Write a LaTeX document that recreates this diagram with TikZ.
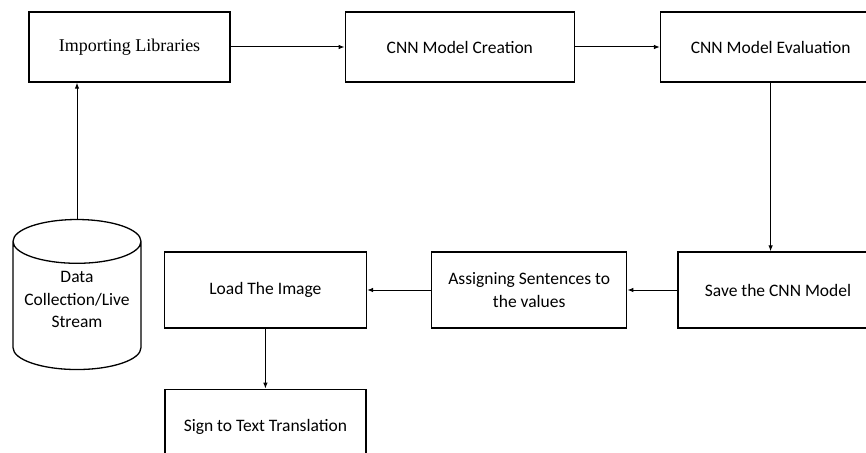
\documentclass[tikz,border=0pt]{standalone}
\usepackage{fontspec}
\setmainfont{Carlito}
\newfontfamily\serifbox{Liberation Serif}
\usetikzlibrary{positioning,shapes.geometric,arrows.meta}

\tikzset{
  block/.style={draw, line width=1.3pt, minimum height=70pt, inner sep=2pt,
    align=center, font=\fontsize{17.5}{22.5}\selectfont},
  store/.style={draw, line width=1.3pt, cylinder, shape border rotate=90,
    aspect=0.4, minimum width=128pt, minimum height=150pt, inner sep=2pt,
    align=center, font=\fontsize{17.5}{22.5}\selectfont},
  flow/.style={-{Latex[length=6pt,width=4.5pt]}, line width=1pt},
}

\begin{document}
\begin{tikzpicture}[x=1pt,y=-1pt]
    \clip (0,0) rectangle (866,452);
    % top row
    \node[block, minimum width=201pt, font=\serifbox\fontsize{18}{21}\selectfont] (imp) at (129.5,47) {Importing Libraries};
    \node[block, minimum width=229pt, right=114pt of imp] (create) {CNN Model Creation};
    \node[block, minimum width=220pt, right=85pt of create] (eval) {CNN Model Evaluation};
    % bottom row
    \node[block, minimum width=200pt, minimum height=76pt] (save) at (778,290) {Save the CNN Model};
    \node[block, minimum width=195pt, minimum height=76pt, left=50pt of save] (assign) {Assigning Sentences to\\the values};
    \node[block, minimum width=202pt, minimum height=76pt, left=64pt of assign] (load) {Load The Image};
    \node[block, minimum width=201pt, minimum height=76pt, below=60pt of load] (sign) {Sign to Text Translation};
    % data source (extra depth pushes the text up a bit)
    \node[store, text depth=18pt] (data) at (77,308.5) {Data\\Collection/Live\\Stream};
    % connectors
    \draw[flow] (data.north) -- (data.north |- imp.south);
    \draw[flow] (imp) -- (create);
    \draw[flow] (create) -- (eval);
    \draw[flow] (eval.south) -- (eval.south |- save.north);
    \draw[flow] (save) -- (assign);
    \draw[flow] (assign) -- (load);
    \draw[flow] (load) -- (sign);
\end{tikzpicture}
\end{document}
